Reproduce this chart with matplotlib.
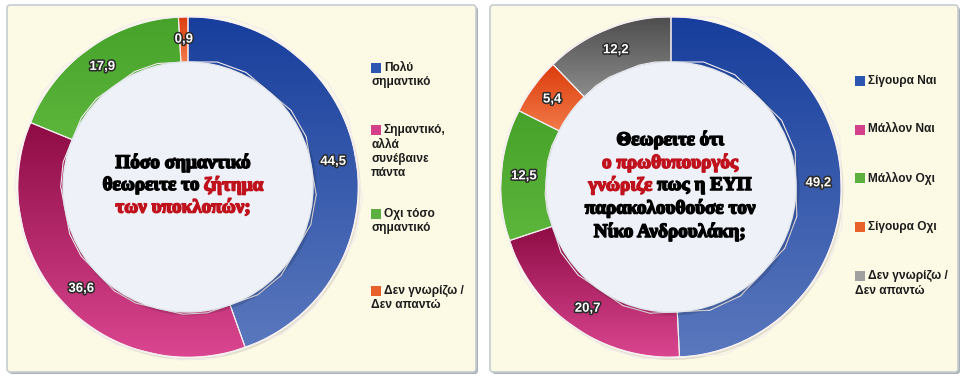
import numpy as np
import matplotlib

matplotlib.use("Agg")
import matplotlib.pyplot as plt
import matplotlib.patheffects as pe
from matplotlib.colors import LinearSegmentedColormap
from matplotlib.patches import Circle, FancyBboxPatch, Rectangle

W, H = 965, 379

# left chart
left_labels = ["Πολύ\nσημαντικό", "Σημαντικό,\nαλλά\nσυνέβαινε\nπάντα",
               "Οχι τόσο\nσημαντικό", "Δεν γνωρίζω /\nΔεν απαντώ"]
left_values = [44.5, 36.6, 17.9, 0.9]
left_title = [[("Πόσο σημαντικό", "k")],
              [("θεωρειτε το", "k"), ("ζήτημα", "#c0121c")],
              [("των υποκλοπών;", "#c0121c")]]

# right chart
right_labels = ["Σίγουρα Ναι", "Μάλλον Ναι", "Μάλλον Οχι", "Σίγουρα Οχι",
                "Δεν γνωρίζω /\nΔεν απαντώ"]
right_values = [49.2, 20.7, 12.5, 5.4, 12.2]
right_title = [[("Θεωρειτε ότι", "k")],
               [("ο πρωθυπουργός", "#c0121c")],
               [("γνώριζε", "#c0121c"), ("πως η ΕΥΠ", "k")],
               [("παρακολουθούσε τον", "k")],
               [("Νίκο Ανδρουλάκη;", "k")]]

BLUE = ("#173e9c", "#5a78bd", "#2a55b0")
PINK = ("#8e0c45", "#da4690", "#d4418a")
GREEN = ("#46a22a", "#5db63c", "#5cb040")
ORANGE = ("#dc3c0c", "#f27a48", "#e8602a")
GREY = ("#4e4e4e", "#8c8c8c", "#a0a0a0")

left_colors = [BLUE, PINK, GREEN, ORANGE]
right_colors = [BLUE, PINK, GREEN, ORANGE, GREY]

PANEL_BG = "#fcf9e4"
R_OUT, R_IN = 170, 125


def Y(y):
    return H - y


def panel(ax, x0, y0, x1, y1):
    sh = FancyBboxPatch((x0 + 2, Y(y1) - 2), x1 - x0, y1 - y0,
                        boxstyle="round,pad=0,rounding_size=3",
                        fc="#aab2b6", ec="none", zorder=0)
    p = FancyBboxPatch((x0, Y(y1)), x1 - x0, y1 - y0,
                       boxstyle="round,pad=0,rounding_size=3",
                       fc=PANEL_BG, ec="#c5cdd1", lw=1.2, zorder=0.5)
    ax.add_patch(sh)
    ax.add_patch(p)


def donut(ax, cx, cy, values, colors):
    c = (cx, Y(cy))
    ax.add_patch(Circle((c[0] + 1.5, c[1] - 2), R_OUT + 1, fc="#000000",
                        alpha=0.10, ec="none", zorder=1))
    wedges, _ = ax.pie(values, radius=R_OUT, center=c, startangle=90,
                       counterclock=False, frame=True,
                       colors=[col[2] for col in colors],
                       wedgeprops=dict(width=R_OUT - R_IN, ec="#f3ecee",
                                       lw=0.9))
    grad = np.linspace(0, 1, 256).reshape(-1, 1)
    for w, col in zip(wedges, colors):
        w.set_zorder(2)
        bb = w.get_path().get_extents()
        cmap = LinearSegmentedColormap.from_list("g", [col[0], col[1]])
        im = ax.imshow(grad, cmap=cmap, origin="upper", aspect="auto",
                       extent=(bb.x0, bb.x1, bb.y0, bb.y1), zorder=2.5,
                       interpolation="bilinear")
        im.set_clip_path(w)
    ax.add_patch(Circle(c, R_OUT + 0.5, fill=False, ec="#fbf3f3", lw=1.2,
                        zorder=3))
    for w in wedges:
        ax.add_patch(plt.Polygon(w.get_path().vertices, closed=True,
                                 fill=False, ec="#f3ecee", lw=0.8, zorder=3))
    # inner disc with soft shadow
    ax.add_patch(Circle((c[0] + 1.5, c[1] - 1.5), R_IN + 2, fc="#000000",
                        alpha=0.13, ec="none", zorder=3.5))
    ax.add_patch(Circle(c, R_IN, fc="#eef2f8", ec="#e2e7ee", lw=1,
                        zorder=4))
    # value labels at mid ring
    rmid = (R_OUT + R_IN) / 2
    for w, v in zip(wedges, values):
        ang = np.deg2rad((w.theta1 + w.theta2) / 2)
        x = c[0] + rmid * np.cos(ang)
        y = c[1] + rmid * np.sin(ang)
        ax.text(x, y, f"{v:.1f}".replace(".", ","), color="white",
                fontsize=9.5, fontweight="bold", family="Liberation Sans",
                ha="center", va="center", zorder=6,
                path_effects=[pe.withStroke(linewidth=2.2,
                                            foreground="#2b2b2b")])


def title(ax, fig, cx, ys, lines):
    r = fig.canvas.get_renderer()
    kw = dict(fontsize=13.8, fontweight="bold", family="Liberation Serif",
              va="center", ha="left", zorder=7)
    probe1 = ax.text(0, 0, "ab", **kw)
    probe2 = ax.text(0, 0, "a b", **kw)
    space = (probe2.get_window_extent(r).width
             - probe1.get_window_extent(r).width)
    probe1.remove()
    probe2.remove()
    for y, parts in zip(ys, lines):
        ts = [ax.text(0, Y(y), s, color=col, **kw,
                      path_effects=[pe.withStroke(linewidth=1.1,
                                                  foreground=col)])
              for s, col in parts]
        ws = [t.get_window_extent(r).width for t in ts]
        total = sum(ws) + space * (len(ts) - 1)
        x = cx - total / 2
        for t, w in zip(ts, ws):
            t.set_x(x)
            x += w + space


def legend(ax, x, ys, labels, colors):
    for y, lab, col in zip(ys, labels, colors):
        ax.add_patch(Rectangle((x, Y(y) - 5), 10, 10, fc=col[2], ec="none",
                               zorder=5))
        for i, line in enumerate(lab.split("\n")):
            xx = x + 13 if i == 0 else x
            ax.text(xx, Y(y + i * 14.5), line, fontsize=8.6,
                    fontweight="bold",
                    family=["Liberation Sans Narrow", "Liberation Sans"],
                    color="#1c1c1c", ha="left", va="center", zorder=5)


fig = plt.figure(figsize=(W / 100, H / 100), dpi=100)
ax = fig.add_axes([0, 0, 1, 1])

panel(ax, 7, 5, 476, 372)
panel(ax, 490, 5, 958, 372)

donut(ax, 188, 187, left_values, left_colors)
donut(ax, 671, 187, right_values, right_colors)

ax.set_xlim(0, W)
ax.set_ylim(0, H)
ax.set_aspect("auto")
ax.axis("off")

title(ax, fig, 183, [163, 185.5, 208], left_title)
title(ax, fig, 670, [140, 163, 185.5, 208.5, 232], right_title)

legend(ax, 371, [68, 130, 214, 291], left_labels, left_colors)
legend(ax, 855, [81, 129.5, 178, 227, 276], right_labels, right_colors)

fig.savefig("out.png", dpi=100, facecolor="white")
